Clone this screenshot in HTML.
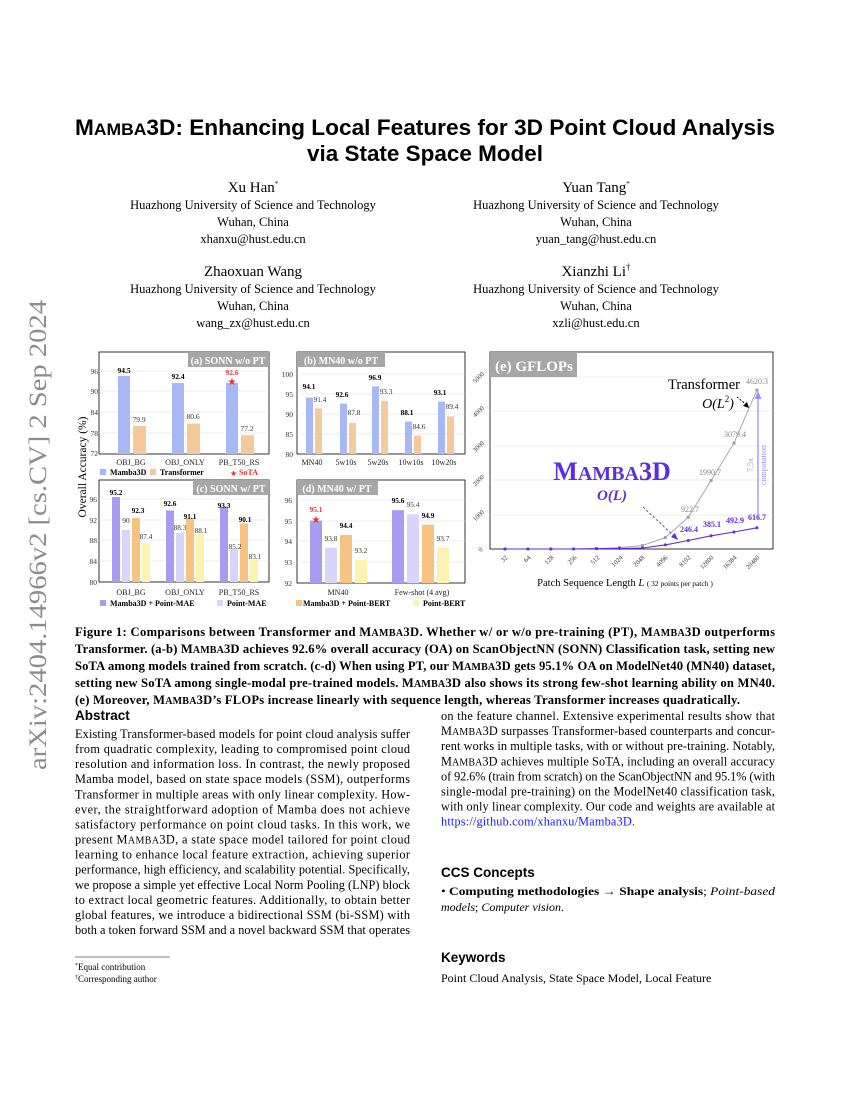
<!DOCTYPE html>
<html><head><meta charset="utf-8"><style>
html,body{margin:0;padding:0;background:#fff}
svg{display:block}
.s{font-family:"Liberation Serif",serif}
.a{font-family:"Liberation Sans",sans-serif}
</style></head><body>
<svg width="850" height="1100" viewBox="0 0 850 1100" xmlns="http://www.w3.org/2000/svg">
<rect width="850" height="1100" fill="#fff"/>
<text class="s" transform="translate(46,535) rotate(-90)" text-anchor="middle" font-size="25" fill="#8c8c8c" textLength="470" lengthAdjust="spacingAndGlyphs">arXiv:2404.14966v2  [cs.CV]  2 Sep 2024</text>
<text class="a" x="425" y="135" text-anchor="middle" font-size="22" font-weight="bold" textLength="700" lengthAdjust="spacingAndGlyphs">M<tspan font-size="17">AMBA</tspan>3D: Enhancing Local Features for 3D Point Cloud Analysis</text>
<text class="a" x="425" y="161" text-anchor="middle" font-size="22" font-weight="bold" textLength="236" lengthAdjust="spacingAndGlyphs">via State Space Model</text>
<g class="s" text-anchor="middle" fill="#000">
<text x="253" y="192" font-size="15">Xu Han<tspan font-size="7" dy="-6">*</tspan></text>
<text x="253" y="209" font-size="12.5">Huazhong University of Science and Technology</text>
<text x="253" y="226" font-size="12.5">Wuhan, China</text>
<text x="253" y="243" font-size="12.5">xhanxu@hust.edu.cn</text>
<text x="596" y="192" font-size="15">Yuan Tang<tspan font-size="7" dy="-6">*</tspan></text>
<text x="596" y="209" font-size="12.5">Huazhong University of Science and Technology</text>
<text x="596" y="226" font-size="12.5">Wuhan, China</text>
<text x="596" y="243" font-size="12.5">yuan_tang@hust.edu.cn</text>
<text x="253" y="276" font-size="15">Zhaoxuan Wang</text>
<text x="253" y="293" font-size="12.5">Huazhong University of Science and Technology</text>
<text x="253" y="310" font-size="12.5">Wuhan, China</text>
<text x="253" y="327" font-size="12.5">wang_zx@hust.edu.cn</text>
<text x="596" y="276" font-size="15">Xianzhi Li<tspan font-size="9" dy="-6">†</tspan></text>
<text x="596" y="293" font-size="12.5">Huazhong University of Science and Technology</text>
<text x="596" y="310" font-size="12.5">Wuhan, China</text>
<text x="596" y="327" font-size="12.5">xzli@hust.edu.cn</text>
</g>

<g class="s">
<rect x="99" y="352" width="170" height="102" fill="none" stroke="#000" stroke-width="0.8"/>
<g stroke="#ddd" stroke-width="0.6"><line x1="99" y1="371" x2="269" y2="371"/><line x1="99" y1="391" x2="269" y2="391"/><line x1="99" y1="412" x2="269" y2="412"/><line x1="99" y1="433" x2="269" y2="433"/></g>
<rect x="188" y="352" width="81" height="15" fill="#a6a6a6"/>
<text x="228" y="364" text-anchor="middle" font-size="10" font-weight="bold" fill="#fff">(a) SONN w/o PT</text>
<g font-size="7.5" fill="#333" text-anchor="end"><text x="98" y="374">96</text><text x="98" y="394">90</text><text x="98" y="415">84</text><text x="98" y="436">78</text><text x="98" y="456">72</text></g>
<g fill="#a8b8f5"><rect x="118" y="376" width="12" height="78"/><rect x="172" y="383" width="12" height="71"/><rect x="226" y="382.6" width="12" height="71.4"/></g>
<g fill="#f6c99a"><rect x="133" y="426" width="13" height="28"/><rect x="187" y="423.6" width="13" height="30.4"/><rect x="241" y="435.2" width="13" height="18.8"/></g>
<g font-size="7.5" text-anchor="middle"><text x="124" y="373" font-weight="bold">94.5</text><text x="178" y="379" font-weight="bold">92.4</text><text x="232" y="375" font-weight="bold" fill="#e53030">92.6</text>
<text x="139" y="422" fill="#333">79.9</text><text x="193" y="419" fill="#333">80.6</text><text x="247" y="431" fill="#333">77.2</text></g>
<text x="232" y="385" text-anchor="middle" font-size="10" fill="#e53030">★</text>
<g font-size="8" text-anchor="middle" fill="#222"><text x="131" y="465">OBJ_BG</text><text x="185" y="465">OBJ_ONLY</text><text x="239" y="465">PB_T50_RS</text></g>
<rect x="100" y="469" width="6" height="6" fill="#a8b8f5"/><text x="110" y="475" font-size="8" font-weight="bold">Mamba3D</text>
<rect x="150" y="469" width="6" height="6" fill="#f6c99a"/><text x="160" y="475" font-size="8" font-weight="bold">Transformer</text>
<text x="230" y="476" font-size="8" fill="#e53030">★</text><text x="239" y="475" font-size="8" font-weight="bold" fill="#e53030">SoTA</text>

<rect x="297" y="352" width="168" height="102" fill="none" stroke="#000" stroke-width="0.8"/>
<g stroke="#ddd" stroke-width="0.6"><line x1="297" y1="374" x2="465" y2="374"/><line x1="297" y1="394" x2="465" y2="394"/><line x1="297" y1="414" x2="465" y2="414"/><line x1="297" y1="434" x2="465" y2="434"/></g>
<rect x="297" y="352" width="88" height="15" fill="#a6a6a6"/>
<text x="341" y="364" text-anchor="middle" font-size="10" font-weight="bold" fill="#fff">(b) MN40 w/o PT</text>
<g font-size="7.5" fill="#333" text-anchor="end"><text x="293" y="377">100</text><text x="293" y="397">95</text><text x="293" y="417">90</text><text x="293" y="437">85</text><text x="293" y="457">80</text></g>
<g fill="#a8b8f5"><rect x="306" y="397.6" width="7" height="56.4"/><rect x="340" y="403.6" width="7" height="50.4"/><rect x="372" y="386.4" width="7" height="67.6"/><rect x="405" y="421.6" width="7" height="32.4"/><rect x="438" y="401.6" width="7" height="52.4"/></g>
<g fill="#f6c99a"><rect x="315" y="408.4" width="7" height="45.6"/><rect x="349" y="422.8" width="7" height="31.2"/><rect x="381" y="400.8" width="7" height="53.2"/><rect x="414" y="435.6" width="7" height="18.4"/><rect x="447" y="416.4" width="7" height="37.6"/></g>
<g font-size="7.3" text-anchor="middle"><g font-weight="bold"><text x="309" y="389">94.1</text><text x="342" y="397">92.6</text><text x="375" y="380">96.9</text><text x="407" y="415">88.1</text><text x="440" y="395">93.1</text></g>
<g fill="#333"><text x="320" y="402">91.4</text><text x="354" y="415">87.8</text><text x="386" y="394">93.3</text><text x="419" y="429">84.6</text><text x="452" y="409">89.4</text></g></g>
<g font-size="8" text-anchor="middle" fill="#222"><text x="312" y="465">MN40</text><text x="346" y="465">5w10s</text><text x="378" y="465">5w20s</text><text x="411" y="465">10w10s</text><text x="444" y="465">10w20s</text></g>

<text transform="translate(86,467) rotate(-90)" text-anchor="middle" font-size="11.5">Overall Accuracy (%)</text>

<rect x="99" y="480" width="170" height="102" fill="none" stroke="#000" stroke-width="0.8"/>
<g stroke="#ddd" stroke-width="0.6"><line x1="99" y1="499" x2="269" y2="499"/><line x1="99" y1="520" x2="269" y2="520"/><line x1="99" y1="540" x2="269" y2="540"/><line x1="99" y1="561" x2="269" y2="561"/></g>
<rect x="193" y="480" width="76" height="15" fill="#a6a6a6"/>
<text x="231" y="492" text-anchor="middle" font-size="10" font-weight="bold" fill="#fff">(c) SONN w/ PT</text>
<g font-size="7.5" fill="#333" text-anchor="end"><text x="97" y="502">96</text><text x="97" y="523">92</text><text x="97" y="543">88</text><text x="97" y="564">84</text><text x="97" y="585">80</text></g>
<g>
<rect x="112" y="497" width="8" height="85" fill="#a99cf0"/><rect x="122" y="530" width="8" height="52" fill="#d8d4fa"/><rect x="132" y="518" width="8" height="64" fill="#f6c383"/><rect x="142" y="543.5" width="8" height="38.5" fill="#fdf2b0"/>
<rect x="166" y="510.5" width="8" height="71.5" fill="#a99cf0"/><rect x="176" y="532.8" width="8" height="49.2" fill="#d8d4fa"/><rect x="186" y="518.3" width="8" height="63.7" fill="#f6c383"/><rect x="196" y="533.9" width="8" height="48.1" fill="#fdf2b0"/>
<rect x="220" y="506.8" width="8" height="75.2" fill="#a99cf0"/><rect x="230" y="549" width="8" height="33" fill="#d8d4fa"/><rect x="240" y="523.5" width="8" height="58.5" fill="#f6c383"/><rect x="250" y="559.9" width="8" height="22.1" fill="#fdf2b0"/>
</g>
<g font-size="7.3" text-anchor="middle">
<text x="116" y="495" font-weight="bold">95.2</text><text x="126" y="523" fill="#333">90</text><text x="138" y="513" font-weight="bold">92.3</text><text x="146" y="539" fill="#333">87.4</text>
<text x="170" y="506" font-weight="bold">92.6</text><text x="180" y="530" fill="#333">88.3</text><text x="190" y="519" font-weight="bold">91.1</text><text x="201" y="533" fill="#333">88.1</text>
<text x="224" y="508" font-weight="bold">93.3</text><text x="235" y="549" fill="#333">85.2</text><text x="245" y="522" font-weight="bold">90.1</text><text x="255" y="559" fill="#333">83.1</text>
</g>
<g font-size="8" text-anchor="middle" fill="#222"><text x="131" y="595">OBJ_BG</text><text x="185" y="595">OBJ_ONLY</text><text x="239" y="595">PB_T50_RS</text></g>
<rect x="100" y="600" width="6" height="6" fill="#a99cf0"/><text x="110" y="606" font-size="8" font-weight="bold">Mamba3D + Point-MAE</text>
<rect x="217" y="600" width="6" height="6" fill="#d8d4fa"/><text x="227" y="606" font-size="8" font-weight="bold">Point-MAE</text>

<rect x="297" y="480" width="168" height="103" fill="none" stroke="#000" stroke-width="0.8"/>
<g stroke="#ddd" stroke-width="0.6"><line x1="297" y1="500" x2="465" y2="500"/><line x1="297" y1="521" x2="465" y2="521"/><line x1="297" y1="541" x2="465" y2="541"/><line x1="297" y1="562" x2="465" y2="562"/></g>
<rect x="297" y="480" width="81" height="15" fill="#a6a6a6"/>
<text x="337" y="492" text-anchor="middle" font-size="10" font-weight="bold" fill="#fff">(d) MN40 w/ PT</text>
<g font-size="7.5" fill="#333" text-anchor="end"><text x="292" y="503">96</text><text x="292" y="524">95</text><text x="292" y="544">94</text><text x="292" y="565">93</text><text x="292" y="586">92</text></g>
<g>
<rect x="310" y="520.6" width="12" height="62.4" fill="#a99cf0"/><rect x="325" y="547.6" width="12" height="35.4" fill="#d8d4fa"/><rect x="340" y="535" width="12" height="48" fill="#f6c383"/><rect x="355" y="560" width="12" height="23" fill="#fdf2b0"/>
<rect x="392" y="510.2" width="12" height="72.8" fill="#a99cf0"/><rect x="407" y="514.3" width="12" height="68.7" fill="#d8d4fa"/><rect x="422" y="524.7" width="12" height="58.3" fill="#f6c383"/><rect x="437" y="547.6" width="12" height="35.4" fill="#fdf2b0"/>
</g>
<g font-size="7.3" text-anchor="middle">
<text x="316" y="512" font-weight="bold" fill="#e53030">95.1</text><text x="331" y="541" fill="#333">93.8</text><text x="346" y="528" font-weight="bold">94.4</text><text x="361" y="553" fill="#333">93.2</text>
<text x="398" y="503" font-weight="bold">95.6</text><text x="413" y="507" fill="#333">95.4</text><text x="428" y="518" font-weight="bold">94.9</text><text x="443" y="541" fill="#333">93.7</text>
</g>
<text x="316" y="523" text-anchor="middle" font-size="10" fill="#e53030">★</text>
<g font-size="8" text-anchor="middle" fill="#222"><text x="338" y="595">MN40</text><text x="422" y="595">Few-shot (4 avg)</text></g>
<rect x="296" y="600" width="6" height="6" fill="#f6c383"/><text x="303" y="606" font-size="8" font-weight="bold">Mamba3D + Point-BERT</text>
<rect x="413" y="600" width="6" height="6" fill="#fdf2b0"/><text x="423" y="606" font-size="8" font-weight="bold">Point-BERT</text>

<rect x="490" y="352" width="283" height="197" fill="none" stroke="#000" stroke-width="0.8"/>
<g stroke="#ddd" stroke-width="0.6"><line x1="490" y1="377" x2="773" y2="377"/><line x1="490" y1="411" x2="773" y2="411"/><line x1="490" y1="446" x2="773" y2="446"/><line x1="490" y1="480" x2="773" y2="480"/><line x1="490" y1="515" x2="773" y2="515"/></g>
<rect x="490" y="352" width="87" height="25" fill="#a6a6a6"/>
<text x="495" y="371" font-size="15" font-weight="bold" fill="#fff">(e) GFLOPs</text>
<g font-size="6.5" fill="#333" text-anchor="middle">
<text transform="translate(482,551) rotate(-45)">0</text><text transform="translate(480,517) rotate(-45)">1000</text><text transform="translate(480,482) rotate(-45)">2000</text><text transform="translate(480,448) rotate(-45)">3000</text><text transform="translate(480,413) rotate(-45)">4000</text><text transform="translate(480,379) rotate(-45)">5000</text>
</g>
<g font-size="6.5" fill="#333" text-anchor="end">
<text transform="translate(508,558) rotate(-45)">32</text><text transform="translate(531,558) rotate(-45)">64</text><text transform="translate(554,558) rotate(-45)">128</text><text transform="translate(577,558) rotate(-45)">256</text><text transform="translate(600,558) rotate(-45)">512</text><text transform="translate(623,558) rotate(-45)">1024</text><text transform="translate(645,558) rotate(-45)">2048</text><text transform="translate(668,558) rotate(-45)">4096</text><text transform="translate(691,558) rotate(-45)">8192</text><text transform="translate(714,558) rotate(-45)">12800</text><text transform="translate(737,558) rotate(-45)">16384</text><text transform="translate(760,558) rotate(-45)">20480</text>
</g>
<polyline fill="none" stroke="#a0a0a0" stroke-width="0.9" points="505,549 527.9,549 550.8,549 573.7,549 596.6,548.5 619.5,547.6 642.4,545.6 665.3,537.6 688.2,517.3 711.1,480.5 734,443.1 756.9,390.1"/>
<g fill="#a0a0a0"><rect x="503.5" y="547.5" width="3" height="3"/><rect x="526.4" y="547.5" width="3" height="3"/><rect x="549.3" y="547.5" width="3" height="3"/><rect x="572.2" y="547.5" width="3" height="3"/><rect x="595.1" y="547" width="3" height="3"/><rect x="618" y="546.1" width="3" height="3"/><rect x="640.9" y="544.1" width="3" height="3"/><rect x="663.8" y="536.1" width="3" height="3"/><rect x="686.7" y="515.8" width="3" height="3"/><rect x="709.6" y="479" width="3" height="3"/><rect x="732.5" y="441.6" width="3" height="3"/><rect x="755.4" y="388.6" width="3" height="3"/></g>
<polyline fill="none" stroke="#5b2ee0" stroke-width="1.1" points="505,549 527.9,549 550.8,549 573.7,549 596.6,548.7 619.5,548.5 642.4,548 665.3,544.9 688.2,540.5 711.1,535.8 734,532 756.9,527.8"/>
<g fill="#5b2ee0"><circle cx="505" cy="549" r="1.5"/><circle cx="527.9" cy="549" r="1.5"/><circle cx="550.8" cy="549" r="1.5"/><circle cx="573.7" cy="549" r="1.5"/><circle cx="596.6" cy="548.7" r="1.5"/><circle cx="619.5" cy="548.5" r="1.5"/><circle cx="642.4" cy="548" r="1.5"/><circle cx="665.3" cy="544.9" r="1.5"/><circle cx="688.2" cy="540.5" r="1.5"/><circle cx="711.1" cy="535.8" r="1.5"/><circle cx="734" cy="532" r="1.5"/><circle cx="756.9" cy="527.8" r="1.5"/></g>
<g font-size="8" fill="#888" text-anchor="middle"><text x="690" y="512">922.7</text><text x="710" y="475">1990.7</text><text x="735" y="437">3079.4</text><text x="757" y="384">4620.3</text></g>
<g font-size="8" fill="#5b2ee0" font-weight="bold" text-anchor="middle"><text x="689" y="532">246.4</text><text x="712" y="527">385.1</text><text x="735" y="523">492.9</text><text x="757" y="520">616.7</text></g>
<text x="704" y="389" text-anchor="middle" font-size="14.5">Transformer</text>
<text x="718" y="408" text-anchor="middle" font-size="14" font-style="italic">O(L<tspan font-size="9" dy="-6" font-style="normal">2</tspan><tspan dy="6">)</tspan></text>
<line x1="737" y1="397" x2="748" y2="406" stroke="#000" stroke-dasharray="2,1.5"/><polygon points="749,408 743,406 747,402" fill="#000"/>
<text x="612" y="480" text-anchor="middle" font-size="26" font-weight="bold" fill="#5b2ee0">M<tspan font-size="20">AMBA</tspan>3D</text>
<text x="612" y="500" text-anchor="middle" font-size="15" font-weight="bold" font-style="italic" fill="#5b2ee0">O(L)</text>
<line x1="643" y1="507" x2="675" y2="537" stroke="#5b2ee0" stroke-width="0.9" stroke-dasharray="2.5,2"/><polygon points="678,540 671,537 675,533" fill="#5b2ee0"/>
<line x1="758" y1="518" x2="758" y2="398" stroke="#9b8ff5" stroke-width="1.3"/><polygon points="758,391 754.5,399 761.5,399" fill="#9b8ff5"/>
<text transform="translate(753,465) rotate(-90)" text-anchor="middle" font-size="8" fill="#9b8ff5">7.5x</text>
<text transform="translate(766,465) rotate(-90)" text-anchor="middle" font-size="8" fill="#9b8ff5">computation</text>
<text x="625" y="586" text-anchor="middle" font-size="10.5">Patch Sequence Length <tspan font-style="italic">L</tspan> <tspan font-size="7.5">( 32 points per patch )</tspan></text>
</g>

<g class="s" font-size="12.6" font-weight="bold" lengthAdjust="spacingAndGlyphs">
<text x="75" y="636" textLength="700">Figure 1: Comparisons between Transformer and M<tspan font-size="10">AMBA</tspan>3D. Whether w/ or w/o pre-training (PT), M<tspan font-size="10">AMBA</tspan>3D outperforms</text>
<text x="75" y="653" textLength="700">Transformer. (a-b) M<tspan font-size="10">AMBA</tspan>3D achieves 92.6% overall accuracy (OA) on ScanObjectNN (SONN) Classification task, setting new</text>
<text x="75" y="670" textLength="700">SoTA among models trained from scratch. (c-d) When using PT, our M<tspan font-size="10">AMBA</tspan>3D gets 95.1% OA on ModelNet40 (MN40) dataset,</text>
<text x="75" y="687" textLength="700">setting new SoTA among single-modal pre-trained models. M<tspan font-size="10">AMBA</tspan>3D also shows its strong few-shot learning ability on MN40.</text>
<text x="75" y="704" textLength="665">(e) Moreover, M<tspan font-size="10">AMBA</tspan>3D’s FLOPs increase linearly with sequence length, whereas Transformer increases quadratically.</text>
</g>

<text class="a" x="75" y="720" font-size="13.5" font-weight="bold">Abstract</text>
<g class="s" font-size="12.3" lengthAdjust="spacingAndGlyphs">
<text x="75" y="738" textLength="335">Existing Transformer-based models for point cloud analysis suffer</text>
<text x="75" y="753.1" textLength="335">from quadratic complexity, leading to compromised point cloud</text>
<text x="75" y="768.2" textLength="335">resolution and information loss. In contrast, the newly proposed</text>
<text x="75" y="783.2" textLength="335">Mamba model, based on state space models (SSM), outperforms</text>
<text x="75" y="798.3" textLength="335">Transformer in multiple areas with only linear complexity. How-</text>
<text x="75" y="813.4" textLength="335">ever, the straightforward adoption of Mamba does not achieve</text>
<text x="75" y="828.5" textLength="335">satisfactory performance on point cloud tasks. In this work, we</text>
<text x="75" y="843.6" textLength="335">present M<tspan font-size="10">AMBA</tspan>3D, a state space model tailored for point cloud</text>
<text x="75" y="858.6" textLength="335">learning to enhance local feature extraction, achieving superior</text>
<text x="75" y="873.7" textLength="335">performance, high efficiency, and scalability potential. Specifically,</text>
<text x="75" y="888.8" textLength="335">we propose a simple yet effective Local Norm Pooling (LNP) block</text>
<text x="75" y="903.9" textLength="335">to extract local geometric features. Additionally, to obtain better</text>
<text x="75" y="919" textLength="335">global features, we introduce a bidirectional SSM (bi-SSM) with</text>
<text x="75" y="934" textLength="335">both a token forward SSM and a novel backward SSM that operates</text>

<text x="441" y="720" textLength="334">on the feature channel. Extensive experimental results show that</text>
<text x="441" y="735.1" textLength="334">M<tspan font-size="10">AMBA</tspan>3D surpasses Transformer-based counterparts and concur-</text>
<text x="441" y="750.2" textLength="334">rent works in multiple tasks, with or without pre-training. Notably,</text>
<text x="441" y="765.3" textLength="334">M<tspan font-size="10">AMBA</tspan>3D achieves multiple SoTA, including an overall accuracy</text>
<text x="441" y="780.4" textLength="334">of 92.6% (train from scratch) on the ScanObjectNN and 95.1% (with</text>
<text x="441" y="795.5" textLength="334">single-modal pre-training) on the ModelNet40 classification task,</text>
<text x="441" y="810.6" textLength="334">with only linear complexity. Our code and weights are available at</text>
<text x="441" y="825.7" textLength="194" fill="#1a1aff">https://github.com/xhanxu/Mamba3D.</text>
</g>
<text class="a" x="441" y="877" font-size="13.5" font-weight="bold">CCS Concepts</text>
<text class="s" x="441" y="895" font-size="12" textLength="334" lengthAdjust="spacingAndGlyphs">• <tspan font-weight="bold">Computing methodologies</tspan> → <tspan font-weight="bold">Shape analysis</tspan>; <tspan font-style="italic">Point-based</tspan></text>
<text class="s" x="441" y="911" font-size="12"><tspan font-style="italic">models</tspan>; <tspan font-style="italic">Computer vision</tspan>.</text>
<text class="a" x="441" y="962" font-size="13.5" font-weight="bold">Keywords</text>
<text class="s" x="441" y="982" font-size="12">Point Cloud Analysis, State Space Model, Local Feature</text>
<line x1="75" y1="957" x2="170" y2="957" stroke="#000" stroke-width="0.5"/>
<text class="s" x="75" y="970" font-size="9"><tspan font-size="6" dy="-3">*</tspan><tspan dy="3">Equal contribution</tspan></text>
<text class="s" x="75" y="982" font-size="9"><tspan font-size="6" dy="-3">†</tspan><tspan dy="3">Corresponding author</tspan></text>
</svg>
</body></html>
